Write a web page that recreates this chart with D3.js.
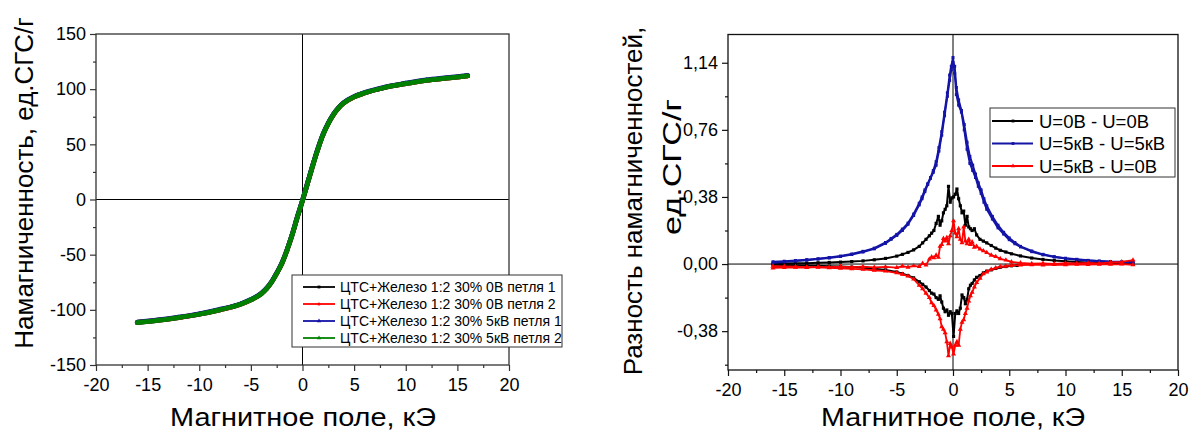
<!DOCTYPE html>
<html>
<head>
<meta charset="utf-8">
<script src="https://cdn.jsdelivr.net/npm/d3@7"></script>
<style>
  html, body { margin: 0; padding: 0; background: #fff; }
  svg { display: block; font-family: "Liberation Sans", Arial, sans-serif; }
</style>
</head>
<body>
<svg id="chart" width="1191" height="431"></svg>
<script>
// ---------- Magnetization curves (left panel) ----------
const fieldKOe = [-16,-14,-12,-10,-8,-6,-5,-4,-3.5,-3,-2.5,-2,-1.5,-1,-0.5,0,0.5,1,1.5,2,2.5,3,3.5,4,5,6,8,10,12,14,16];
const mag0VLoop1  = [-111.5,-109.5,-107,-104,-100,-95,-91,-85.5,-81,-75,-67,-58,-46,-32,-16,-1,15,31,46,59,69,77,83,87.5,93,96.5,101.5,105,108,110,112];
const mag0VLoop2  = [-111.4,-109.4,-107,-103.9,-100,-95,-91,-85.4,-81,-75,-67,-58,-46,-32,-16,-1,15,31,46,59,69,77,83,87.5,93,96.5,101.5,105,108,110,112];
const mag5kVLoop1 = [-111.2,-109.2,-106.7,-103.6,-99.6,-94.6,-90.6,-85,-80.6,-74.6,-66.6,-57.6,-45.6,-31.6,-15.6,-0.6,15.4,31.4,46.4,59.4,69.4,77.4,83.4,87.9,93.4,96.9,101.9,105.4,108.4,110.4,112.4];
const mag5kVLoop2 = [-111.5,-109.5,-107,-104,-100,-95,-91,-85.5,-81,-75,-67,-58,-46,-32,-16,-1,15,31,46,59,69,77,83,87.5,93,96.5,101.5,105,108,110,112];
const leftSeriesNames = [
  "ЦТС+Железо 1:2 30% 0В петля 1",
  "ЦТС+Железо 1:2 30% 0В петля 2",
  "ЦТС+Железо 1:2 30% 5кВ петля 1",
  "ЦТС+Железо 1:2 30% 5кВ петля 2"
];
const leftXTicks = [-20,-15,-10,-5,0,5,10,15,20];
const leftXMinor = [-17.5,-12.5,-7.5,-2.5,2.5,7.5,12.5,17.5];
const leftYTicks = [-150,-100,-50,0,50,100,150];
const leftYMinor = [-125,-75,-25,25,75,125];

// ---------- Magnetization differences (right panel) ----------
const diffFieldA = [-16,-15,-14,-13,-12,-11,-10,-9,-8,-7,-6,-5,-4.5,-4,-3.5,-3,-2.7,-2.4,-2.1,-1.9,-1.7,-1.5,-1.3,-1.15,-1.0,-0.85,-0.7,-0.55,-0.4,-0.25,-0.1,0.05,0.2,0.35,0.5,0.65,0.8,0.95,1.1,1.25,1.4,1.55,1.7,1.9,2.1,2.4,2.7,3,3.4,3.8,4.2,4.7,5.2,6,7,8,9,10,11,12,13,14,15,16];
const diffFieldB = [-16,-15,-14,-13,-12,-11,-10,-9,-8,-7,-6,-5,-4.5,-4,-3.5,-3,-2.7,-2.4,-2.1,-1.9,-1.7,-1.5,-1.3,-1.15,-1.0,-0.85,-0.7,-0.55,-0.4,-0.25,-0.1,0.05,0.2,0.35,0.5,0.65,0.8,0.95,1.1,1.25,1.4,1.55,1.7,1.9,2.1,2.4,2.7,3,3.4,3.8,4.2,4.7,5.2,5.7];
const diffFieldBlue = [-16,-15,-14,-13,-12,-11,-10,-9,-8,-7,-6,-5.5,-5,-4.5,-4,-3.5,-3,-2.75,-2.5,-2.25,-2,-1.75,-1.5,-1.25,-1,-0.75,-0.5,-0.3,-0.15,0,0.15,0.3,0.5,0.75,1,1.25,1.5,1.75,2,2.25,2.5,2.75,3,3.5,4,4.5,5,5.5,6,7,8,9,10,11,12,13,14,15,16];

// U=0В - U=0В
const diff00Upper = [0.002,0.003,0.004,0.005,0.007,0.009,0.011,0.014,0.018,0.024,0.032,0.045,0.055,0.066,0.08,0.1,0.12,0.14,0.16,0.175,0.19,0.23,0.27,0.22,0.245,0.29,0.31,0.33,0.44,0.35,0.375,0.38,0.395,0.425,0.37,0.33,0.29,0.3,0.22,0.27,0.21,0.2,0.19,0.2,0.165,0.14,0.13,0.12,0.105,0.09,0.078,0.068,0.058,0.046,0.034,0.026,0.02,0.016,0.012,0.009,0.007,0.006,0.005,0.004];
const diff00Lower = [-0.004,-0.005,-0.007,-0.008,-0.01,-0.012,-0.014,-0.017,-0.021,-0.026,-0.033,-0.045,-0.055,-0.065,-0.078,-0.1,-0.115,-0.13,-0.15,-0.165,-0.17,-0.19,-0.2,-0.18,-0.215,-0.25,-0.27,-0.26,-0.29,-0.27,-0.28,-0.41,-0.28,-0.265,-0.28,-0.25,-0.175,-0.19,-0.225,-0.2,-0.14,-0.12,-0.11,-0.09,-0.075,-0.065,-0.05,-0.04,-0.033,-0.025,-0.018,-0.014,-0.01,-0.008];
// U=5кВ - U=5кВ
const diff55BranchA = [0.013,0.016,0.02,0.025,0.03,0.037,0.045,0.057,0.072,0.09,0.122,0.145,0.168,0.198,0.232,0.283,0.345,0.38,0.42,0.455,0.49,0.53,0.58,0.66,0.75,0.86,0.97,1.07,1.12,1.17,1.08,0.96,0.9,0.86,0.76,0.65,0.57,0.53,0.49,0.44,0.4,0.35,0.31,0.255,0.205,0.17,0.138,0.115,0.097,0.07,0.052,0.04,0.031,0.025,0.02,0.017,0.014,0.013,0.012];
const diff55BranchB = [0.008,0.012,0.017,0.022,0.028,0.034,0.043,0.054,0.068,0.086,0.117,0.14,0.162,0.19,0.225,0.275,0.335,0.37,0.41,0.45,0.485,0.52,0.56,0.64,0.73,0.84,0.95,1.04,1.1,1.14,1.12,1.0,0.93,0.87,0.79,0.69,0.61,0.56,0.51,0.46,0.42,0.37,0.33,0.27,0.22,0.18,0.148,0.122,0.1,0.074,0.055,0.042,0.033,0.027,0.021,0.016,0.012,0.01,0.009];
// U=5кВ - U=0В
const diff50Upper = [-0.022,-0.02,-0.018,-0.02,-0.016,-0.018,-0.014,-0.017,-0.015,-0.019,-0.016,-0.02,-0.012,-0.018,-0.01,-0.014,0.004,-0.006,0.028,0.04,0.035,0.05,0.038,0.1,0.11,0.145,0.13,0.15,0.115,0.16,0.19,0.245,0.175,0.155,0.2,0.14,0.12,0.21,0.13,0.115,0.14,0.11,0.125,0.095,0.1,0.085,0.075,0.065,0.05,0.042,0.03,0.022,0.012,0.006,0.002,0.004,0.001,0.005,0.003,0.006,0.004,0.009,0.012,0.022];
const diff50Lower = [-0.012,-0.013,-0.015,-0.017,-0.019,-0.021,-0.024,-0.027,-0.03,-0.035,-0.04,-0.05,-0.058,-0.068,-0.085,-0.12,-0.14,-0.165,-0.19,-0.22,-0.235,-0.26,-0.285,-0.31,-0.355,-0.37,-0.39,-0.44,-0.52,-0.45,-0.47,-0.51,-0.46,-0.44,-0.46,-0.37,-0.33,-0.315,-0.28,-0.25,-0.21,-0.18,-0.16,-0.13,-0.105,-0.08,-0.055,-0.045,-0.03,-0.022,-0.015,-0.012,-0.008,-0.006,-0.004,-0.005,-0.003,-0.004,-0.002,-0.003,-0.001,-0.002,0,-0.004];
const rightSeriesNames = ["U=0В - U=0В", "U=5кВ - U=5кВ", "U=5кВ - U=0В"];
const rightXTicks = [-20,-15,-10,-5,0,5,10,15,20];
const rightXMinor = [-17.5,-12.5,-7.5,-2.5,2.5,7.5,12.5,17.5];
const rightYTicks = [-0.38,0,0.38,0.76,1.14];
const rightYMinor = [-0.57,-0.19,0.19,0.57,0.95];

const svg = d3.select("#chart");
svg.append("rect").attr("width", 1191).attr("height", 431).attr("fill", "#fff");

const zip = (xs, ys) => xs.map((x, i) => [x, ys[i]]);

function drawAxes(x, y, cfg) {
  const [x0, x1] = x.range();
  const [y0, y1] = y.range(); // y0 bottom, y1 top
  const g = svg.append("g");

  // zero lines
  g.append("line").attr("x1", x(0)).attr("x2", x(0)).attr("y1", y1).attr("y2", y0)
    .attr("stroke", "#000").attr("stroke-width", 1);
  g.append("line").attr("x1", x0).attr("x2", x1).attr("y1", y(0)).attr("y2", y(0))
    .attr("stroke", "#000").attr("stroke-width", 1);

  const styleAxis = sel => {
    sel.select(".domain").remove();
    sel.selectAll("line").attr("stroke", cfg.axisColor).attr("stroke-width", 1.2);
    sel.selectAll("text").attr("fill", "#000").style("font-size", cfg.tickFont + "px")
      .style("font-family", '"Liberation Sans", Arial, sans-serif');
  };

  g.append("g").attr("transform", `translate(0,${y0})`)
    .call(d3.axisBottom(x).tickValues(cfg.xTicks).tickSize(6).tickPadding(7).tickFormat(d => String(d)))
    .call(styleAxis);
  g.append("g").attr("transform", `translate(0,${y0})`)
    .call(d3.axisBottom(x).tickValues(cfg.xMinor).tickSize(3).tickFormat(""))
    .call(styleAxis);
  g.append("g").attr("transform", `translate(${x0},0)`)
    .call(d3.axisLeft(y).tickValues(cfg.yTicks).tickSize(6).tickPadding(4).tickFormat(cfg.yFormat))
    .call(styleAxis);
  g.append("g").attr("transform", `translate(${x0},0)`)
    .call(d3.axisLeft(y).tickValues(cfg.yMinor).tickSize(3).tickFormat(""))
    .call(styleAxis);

  // frame
  g.append("rect").attr("x", x0).attr("y", y1).attr("width", x1 - x0).attr("height", y0 - y1)
    .attr("fill", "none").attr("stroke", cfg.axisColor).attr("stroke-width", 1.3);
}

function marker(type, size) {
  return d3.symbol().type(type).size(size)();
}

// ---------- left panel ----------
const xL = d3.scaleLinear().domain([-20, 20]).range([96, 509]);
const yL = d3.scaleLinear().domain([-150, 150]).range([365, 34]);

drawAxes(xL, yL, {
  xTicks: leftXTicks, xMinor: leftXMinor, yTicks: leftYTicks, yMinor: leftYMinor,
  yFormat: d => String(d), tickFont: 18, axisColor: "#333"
});

const leftSeries = [
  { values: mag0VLoop1,  color: "#000000", sym: d3.symbolSquare },
  { values: mag0VLoop2,  color: "#ff0000", sym: d3.symbolCircle },
  { values: mag5kVLoop1, color: "#1212a8", sym: d3.symbolTriangle },
  { values: mag5kVLoop2, color: "#008000", sym: d3.symbolTriangle }
];
const lineL = d3.line().x(d => xL(d[0])).y(d => yL(d[1])).curve(d3.curveMonotoneX);
leftSeries.forEach(s => {
  const pts = zip(fieldKOe, s.values);
  svg.append("path").attr("d", lineL(pts)).attr("fill", "none")
    .attr("stroke", s.color).attr("stroke-width", 4.8).attr("stroke-linecap", "round");
  svg.append("g").selectAll("path").data(pts).join("path")
    .attr("d", marker(s.sym, 10))
    .attr("transform", d => `translate(${xL(d[0])},${yL(d[1])})`)
    .attr("fill", s.color);
});

// left legend
const legL = svg.append("g");
legL.append("rect").attr("x", 292).attr("y", 275).attr("width", 270).attr("height", 72)
  .attr("fill", "#fff").attr("stroke", "#333").attr("stroke-width", 1);
leftSeries.forEach((s, i) => {
  const cy = 287 + i * 17;
  legL.append("line").attr("x1", 303).attr("x2", 335).attr("y1", cy).attr("y2", cy)
    .attr("stroke", s.color).attr("stroke-width", 1.8);
  legL.append("path").attr("d", marker(s.sym, 8)).attr("transform", `translate(319,${cy})`).attr("fill", s.color);
  legL.append("text").attr("x", 340).attr("y", cy + 5).style("font-size", "14px")
    .attr("fill", "#000").text(leftSeriesNames[i]);
});

// left titles
svg.append("text").attr("transform", "translate(33,183) rotate(-90)")
  .attr("text-anchor", "middle").style("font-size", "26px").attr("fill", "#000")
  .text("Намагниченность, ед.СГС/г");
svg.append("text").attr("x", 303).attr("y", 426)
  .attr("text-anchor", "middle").style("font-size", "26px").attr("fill", "#000")
  .attr("textLength", 266).attr("lengthAdjust", "spacingAndGlyphs")
  .text("Магнитное поле, кЭ");

// ---------- right panel ----------
const xR = d3.scaleLinear().domain([-20, 20]).range([728, 1178]);
const yR = d3.scaleLinear().domain([-0.6, 1.3]).range([370, 34.5]);

drawAxes(xR, yR, {
  xTicks: rightXTicks, xMinor: rightXMinor, yTicks: rightYTicks, yMinor: rightYMinor,
  yFormat: d => d.toFixed(2).replace(".", ","), tickFont: 18, axisColor: "#111"
});

const rightSeries = [
  { branches: [[diffFieldA, diff00Upper], [diffFieldB, diff00Lower]], color: "#000000", sym: d3.symbolSquare, width: 2, msize: 10 },
  { branches: [[diffFieldBlue, diff55BranchA], [diffFieldBlue, diff55BranchB]], color: "#1414a6", sym: d3.symbolSquare, width: 2, msize: 9 },
  { branches: [[diffFieldA, diff50Upper], [diffFieldA, diff50Lower]], color: "#ff0000", sym: d3.symbolTriangle, width: 1.8, msize: 11 }
];
const lineR = d3.line().x(d => xR(d[0])).y(d => yR(d[1]));
rightSeries.forEach(s => {
  s.branches.forEach(([hs, vs]) => {
    const pts = zip(hs, vs);
    svg.append("path").attr("d", lineR(pts)).attr("fill", "none")
      .attr("stroke", s.color).attr("stroke-width", s.width).attr("stroke-linejoin", "round");
    svg.append("g").selectAll("path").data(pts).join("path")
      .attr("d", marker(s.sym, s.msize))
      .attr("transform", d => `translate(${xR(d[0])},${yR(d[1])})`)
      .attr("fill", s.color);
  });
});

// right legend
const legR = svg.append("g");
legR.append("rect").attr("x", 990).attr("y", 108).attr("width", 185).attr("height", 69)
  .attr("fill", "#fff").attr("stroke", "#333").attr("stroke-width", 1);
rightSeries.forEach((s, i) => {
  const cy = 121 + i * 22.5;
  legR.append("line").attr("x1", 992).attr("x2", 1033).attr("y1", cy).attr("y2", cy)
    .attr("stroke", s.color).attr("stroke-width", 1.8);
  legR.append("path").attr("d", marker(s.sym, 8)).attr("transform", `translate(1013,${cy})`).attr("fill", s.color);
  legR.append("text").attr("x", 1039).attr("y", cy + 6.5).style("font-size", "18.5px")
    .attr("fill", "#000").text(rightSeriesNames[i]);
});

// right titles
svg.append("text").attr("transform", "translate(642,201) rotate(-90)")
  .attr("text-anchor", "middle").style("font-size", "26px").attr("fill", "#000")
  .text("Разность намагниченностей,");
svg.append("text").attr("transform", "translate(681,167) rotate(-90)")
  .attr("text-anchor", "middle").style("font-size", "26px").attr("fill", "#000")
  .attr("textLength", 136).attr("lengthAdjust", "spacingAndGlyphs")
  .text("ед.СГС/г");
svg.append("text").attr("x", 953).attr("y", 426)
  .attr("text-anchor", "middle").style("font-size", "26px").attr("fill", "#000")
  .attr("textLength", 264).attr("lengthAdjust", "spacingAndGlyphs")
  .text("Магнитное поле, кЭ");
</script>
</body>
</html>
